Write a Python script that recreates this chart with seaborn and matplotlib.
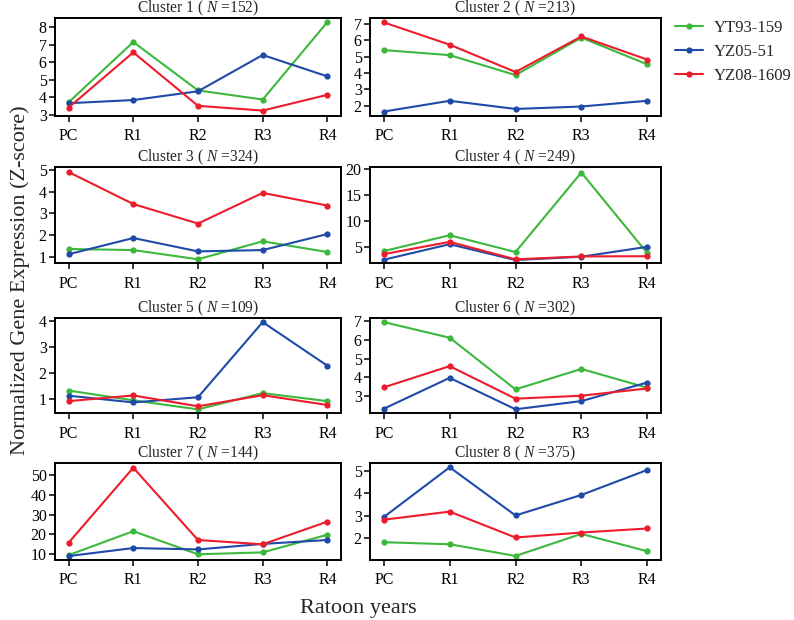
import numpy as np
import pandas as pd
import matplotlib
matplotlib.use("Agg")
import matplotlib.pyplot as plt
import seaborn as sns

stages = ["PC", "R1", "R2", "R3", "R4"]
cultivars = ["YT93-159", "YZ05-51", "YZ08-1609"]
cluster_names = ["Cluster 1", "Cluster 2", "Cluster 3", "Cluster 4",
                 "Cluster 5", "Cluster 6", "Cluster 7", "Cluster 8"]
cluster_n = [152, 213, 324, 249, 109, 302, 144, 375]

# values per cluster: [YT93-159, YZ05-51, YZ08-1609]
c1 = [[3.72, 7.16, 4.40, 3.88, 8.30], [3.67, 3.85, 4.35, 6.42, 5.20], [3.42, 6.57, 3.52, 3.25, 4.15]]
c2 = [[5.41, 5.10, 3.88, 6.17, 4.54], [1.65, 2.31, 1.81, 1.96, 2.31], [7.10, 5.74, 4.07, 6.24, 4.83]]
c3 = [[1.38, 1.33, 0.91, 1.73, 1.24], [1.14, 1.88, 1.27, 1.33, 2.06], [4.89, 3.43, 2.54, 3.94, 3.36]]
c4 = [[4.18, 7.22, 4.00, 19.24, 3.80], [2.53, 5.50, 2.47, 3.10, 5.00], [3.60, 5.95, 2.60, 3.16, 3.20]]
c5 = [[1.32, 0.94, 0.59, 1.22, 0.91], [1.12, 0.86, 1.06, 3.97, 2.28], [0.91, 1.13, 0.71, 1.14, 0.76]]
c6 = [[6.96, 6.12, 3.34, 4.44, 3.43], [2.30, 3.96, 2.27, 2.71, 3.71], [3.45, 4.59, 2.84, 3.00, 3.39]]
c7 = [[9.3, 21.5, 9.7, 10.7, 19.7], [8.8, 12.9, 12.2, 15.0, 17.0], [15.6, 53.9, 17.0, 14.8, 26.4]]
c8 = [[1.82, 1.73, 1.21, 2.19, 1.42], [2.94, 5.15, 3.01, 3.92, 5.03], [2.82, 3.18, 2.03, 2.25, 2.43]]
cluster_values = [c1, c2, c3, c4, c5, c6, c7, c8]

yticks = [[3, 4, 5, 6, 7, 8], [2, 3, 4, 5, 6, 7], [1, 2, 3, 4, 5], [5, 10, 15, 20],
          [1, 2, 3, 4], [3, 4, 5, 6, 7], [10, 20, 30, 40, 50], [2, 3, 4, 5]]
ylims = [(2.94, 8.53), (1.38, 7.37), (0.74, 5.12), (1.9, 20.3),
         (0.45, 4.13), (2.07, 7.18), (6.8, 56.3), (1.03, 5.34)]

palette = {"YT93-159": "#3cb83c", "YZ05-51": "#1f4aa8", "YZ08-1609": "#ec1c2c"}

sns.set_style("ticks")
plt.rcParams["font.family"] = ["Liberation Serif", "DejaVu Serif"]
plt.rcParams["mathtext.fontset"] = "custom"
plt.rcParams["mathtext.rm"] = "Liberation Serif"
plt.rcParams["mathtext.it"] = "Liberation Serif:italic"

W, H = 794, 620
fig = plt.figure(figsize=(W / 100, H / 100), dpi=100)

rows_px = [(18, 116), (167, 263), (318, 413), (463, 560)]
cols_px = [(55, 341), (370, 661)]

axes = []
for i in range(8):
    r, c = divmod(i, 2)
    top, bot = rows_px[r]
    l, rgt = cols_px[c]
    ax = fig.add_axes([l / W, 1 - bot / H, (rgt - l) / W, (bot - top) / H])
    recs = []
    for k, cv in enumerate(cultivars):
        for j, st in enumerate(stages):
            recs.append({"stage": st, "value": cluster_values[i][k][j], "cultivar": cv})
    df = pd.DataFrame(recs)
    sns.lineplot(data=df, x="stage", y="value", hue="cultivar", palette=palette,
                 hue_order=cultivars, marker="o", markersize=4.5, markeredgewidth=0,
                 linewidth=1.5, ax=ax, legend=(i == 1), sort=False)
    ax.set_xlim(-0.21, 4.21)
    ax.set_ylim(*ylims[i])
    ax.set_yticks(yticks[i])
    ax.set_xlabel("")
    ax.set_ylabel("")
    ax.set_title(f"{cluster_names[i]} ( $\\it{{N}}$ ={cluster_n[i]})", fontsize=11.2, pad=2)
    for sp in ax.spines.values():
        sp.set_linewidth(1.4)
        sp.set_color("black")
    ax.tick_params(axis="both", labelsize=11.5, length=4, width=1.1, direction="out",
                   colors="black", pad=2)
    ax.tick_params(axis="x", pad=5)
    axes.append(ax)

leg = axes[1].get_legend()
handles, labels = axes[1].get_legend_handles_labels()
leg.remove()
fig.legend(handles, labels, loc="upper left", bbox_to_anchor=(675 / W, 1 - 20 / H),
           frameon=False, fontsize=12, handlelength=1.7, labelspacing=0.47,
           handletextpad=0.6, borderpad=0, borderaxespad=0)

fig.text(20 / W, 1 - 280 / H, "Normalized Gene Expression (Z-score)", rotation=90,
         ha="center", va="center", fontsize=16)
fig.text(358 / W, 1 - 608 / H, "Ratoon years", ha="center", va="center", fontsize=16)

fig.savefig("out.png", dpi=100)
